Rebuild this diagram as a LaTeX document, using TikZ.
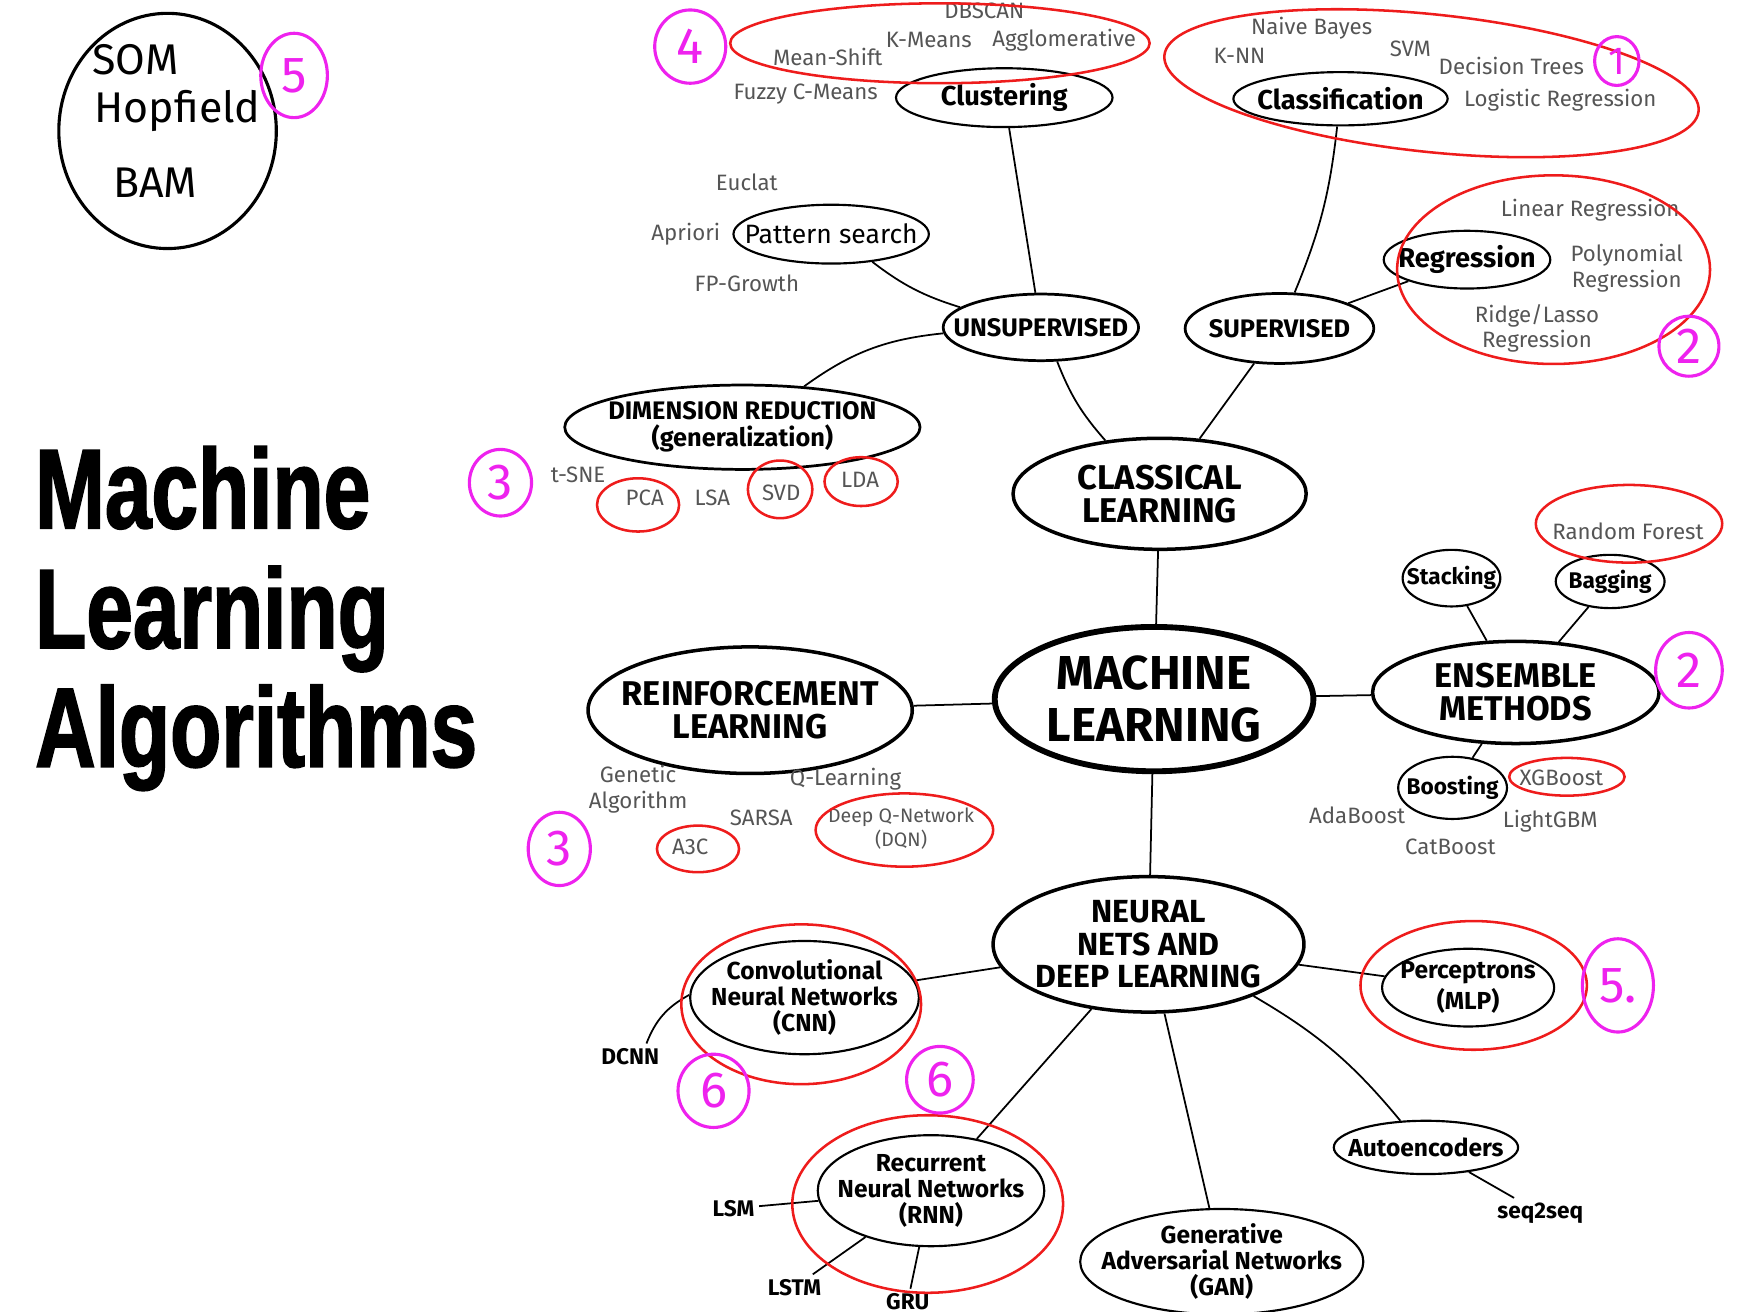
\documentclass[tikz,border=0pt]{standalone}
\usepackage{fontspec}
\setmainfont{Fira Sans}
\newfontfamily\titlefont[FakeStretch=0.74,FakeBold=1.5]{Liberation Sans}
\usepackage{xcolor}
\usepackage{tikz}
\usetikzlibrary{shapes.geometric}

\definecolor{inkgray}{HTML}{555555}
\definecolor{markred}{HTML}{EE1C1C}
\definecolor{markpink}{HTML}{EE22EE}

\begin{document}
\begin{tikzpicture}[
    x=0.01cm, y=-0.01cm,
    oval/.style={
        ellipse, draw, inner sep=-10pt, align=center
    },
    core/.style={
        oval, line width=1.5pt,
        font=\bfseries\fontsize{12.2}{13.4}\selectfont
    },
    branch/.style={
        oval, line width=0.9pt,
        font=\bfseries\fontsize{8.8}{8.5}\selectfont
    },
    group/.style={
        oval, line width=0.7pt,
        font=\bfseries\fontsize{6.5}{6.9}\selectfont
    },
    method/.style={
        oval, line width=0.55pt,
        font=\bfseries\fontsize{7}{8}\selectfont
    },
    minor/.style={
        oval, line width=0.55pt,
        font=\bfseries\fontsize{5.8}{7}\selectfont
    },
    model/.style={
        oval, line width=0.55pt,
        font=\bfseries\fontsize{6.3}{6.6}\selectfont
    },
    leaf/.style={
        text=inkgray, inner sep=1pt, align=center,
        font=\fontsize{5.7}{6.6}\selectfont
    },
    variant/.style={
        inner sep=1pt, font=\bfseries\fontsize{5.8}{6.6}\selectfont
    },
    link/.style={
        draw, line width=0.45pt
    },
    redring/.style={
        draw=markred, line width=0.65pt
    },
    tag/.style={
        ellipse, draw=markpink, line width=0.8pt, text=markpink,
        inner sep=0pt, font=\fontsize{13}{13}\selectfont
    },
    hand/.style={
        inner sep=0pt, font=\fontsize{11}{12}\selectfont
    },
    headline/.style={
        anchor=base west, inner sep=0pt,
        font=\titlefont\bfseries\fontsize{29}{31}\selectfont
    }
]
\useasboundingbox (0,0) rectangle (1568,1182);

% Title
\node[headline] (ttlMachine)    at (31,476) {Machine};
\node[headline] (ttlLearning)   at (31,584) {Learning};
\node[headline] (ttlAlgorithms) at (31,691) {Algorithms};

% Note in the corner
\draw[line width=0.8pt] (151,118) ellipse [x radius=98, y radius=106];
\node[hand] (som)      at (122,54)  {SOM};
\node[hand] (hopfield) at (160,100) {Hopfield};
\node[hand] (bam)      at (140,165) {BAM};

% Main nodes
\node[core, minimum width=2.87cm, minimum height=1.30cm] (ml) at (1040,630) {MACHINE\\LEARNING};
\node[branch, minimum width=2.64cm, minimum height=1.00cm] (classical) at (1045,445) {CLASSICAL\\LEARNING};
\node[branch, minimum width=2.58cm, minimum height=0.92cm] (ensemble) at (1366,624) {ENSEMBLE\\METHODS};
\node[branch, minimum width=2.92cm, minimum height=1.14cm] (rl) at (676,640) {REINFORCEMENT\\LEARNING};
\node[branch, font=\bfseries\fontsize{8.2}{8.4}\selectfont, minimum width=2.80cm, minimum height=1.22cm] (nn) at (1035,851) {NEURAL\\NETS AND\\DEEP LEARNING};

% Classical learning
\node[group, minimum width=1.76cm, minimum height=0.60cm] (unsup) at (938,295) {UNSUPERVISED};
\node[group, minimum width=1.70cm, minimum height=0.63cm] (sup) at (1153,296) {SUPERVISED};
\node[group, minimum width=3.20cm, minimum height=0.76cm] (dimred) at (669,385) {DIMENSION REDUCTION\\(generalization)};
\node[method, minimum width=1.95cm, minimum height=0.53cm] (clustering) at (905,88) {Clustering};
\node[method, minimum width=1.93cm, minimum height=0.48cm] (classif) at (1208,89) {Classification};
\node[method, font=\fontsize{6.8}{8}\selectfont, minimum width=1.76cm, minimum height=0.53cm] (pattern) at (749,211) {Pattern search};
\node[method, minimum width=1.50cm, minimum height=0.52cm] (regression) at (1322,234) {Regression};

% Ensemble methods
\node[minor, minimum width=0.88cm, minimum height=0.51cm] (stacking) at (1308,521) {Stacking};
\node[minor, minimum width=0.98cm, minimum height=0.48cm] (bagging) at (1451,524) {Bagging};
\node[minor, minimum width=0.98cm, minimum height=0.56cm] (boosting) at (1309,710) {Boosting};

% Neural nets
\node[model, minimum width=2.06cm, minimum height=1.02cm] (cnn) at (725,899) {Convolutional\\Neural Networks\\(CNN)};
\node[model, minimum width=2.04cm, minimum height=1.00cm] (rnn) at (839,1073) {Recurrent\\Neural Networks\\(RNN)};
\node[model, minimum width=2.55cm, minimum height=0.95cm] (gan) at (1101,1137) {Generative\\Adversarial Networks\\(GAN)};
\node[model, minimum width=1.66cm, minimum height=0.48cm] (autoenc) at (1285,1034) {Autoencoders};
\node[model, minimum width=1.55cm, minimum height=0.70cm] (mlp) at (1323,890) {Perceptrons\\(MLP)};
\node[variant] (dcnn)   at (568,952)   {DCNN};
\node[variant] (lsm)    at (661,1089)  {LSM};
\node[variant] (lstm)   at (716,1160)  {LSTM};
\node[variant] (gru)    at (818,1173)  {GRU};
\node[variant] (seqseq) at (1388,1093) {seq2seq};

% Leaves
\node[leaf] at (887,10)  {DBSCAN};
\node[leaf] at (837,36)  {K-Means};
\node[leaf] at (959,36)  {Agglomerative};
\node[leaf] at (746,51)  {Mean-Shift};
\node[leaf] at (726,85)  {Fuzzy C-Means};
\node[leaf] at (1182,25) {Naive Bayes};
\node[leaf] at (1271,44) {SVM};
\node[leaf] at (1117,50) {K-NN};
\node[leaf] at (1362,59) {Decision Trees};
\node[leaf] at (1406,90) {Logistic Regression};
\node[leaf] at (673,164) {Euclat};
\node[leaf] at (618,211) {Apriori};
\node[leaf] at (673,255) {FP-Growth};
\node[leaf] at (1433,189) {Linear Regression};
\node[leaf] at (1466,242) {Polynomial\\Regression};
\node[leaf] at (1385,296) {Ridge/Lasso\\Regression};
\node[leaf] at (521,428) {t-SNE};
\node[leaf] at (581,449) {PCA};
\node[leaf] at (642,449) {LSA};
\node[leaf] at (704,444) {SVD};
\node[leaf] at (775,432) {LDA};
\node[leaf] at (1467,479) {Random Forest};
\node[leaf] at (1407,701) {XGBoost};
\node[leaf] at (1397,740) {LightGBM};
\node[leaf] at (1223,735) {AdaBoost};
\node[leaf] at (1307,763) {CatBoost};
\node[leaf] at (575,711) {Genetic\\Algorithm};
\node[leaf] at (762,702) {Q-Learning};
\node[leaf] at (686,737) {SARSA};
\node[leaf] at (622,763) {A3C};
\node[leaf, font=\fontsize{5}{6.2}\selectfont] at (812,747) {Deep Q-Network\\(DQN)};

% Connectors
\draw[link] (ml) -- (classical);
\draw[link] (ml) -- (ensemble);
\draw[link] (ml) -- (rl);
\draw[link] (ml) -- (nn);
\draw[link] (classical) to[bend left=10] (unsup);
\draw[link] (classical) -- (sup);
\draw[link] (unsup) -- (clustering);
\draw[link] (unsup) to[bend left=10] (pattern);
\draw[link] (unsup) to[bend right=15] (dimred);
\draw[link] (sup) to[bend right=8] (classif);
\draw[link] (sup) -- (regression);
\draw[link] (ensemble) -- (stacking);
\draw[link] (ensemble) -- (bagging);
\draw[link] (ensemble) -- (boosting);
\draw[link] (nn) -- (cnn);
\draw[link] (nn) -- (rnn);
\draw[link] (nn) -- (gan);
\draw[link] (nn) to[bend left=10] (autoenc);
\draw[link] (nn) -- (mlp);
\draw[link] (cnn) to[bend right=20] (dcnn);
\draw[link] (rnn) -- (lsm);
\draw[link] (rnn) -- (lstm);
\draw[link] (rnn) -- (gru);
\draw[link] (autoenc) -- (seqseq);

% Red marks
\draw[redring] (847,39) ellipse [x radius=189, y radius=36];
\draw[redring, rotate around={-6:(1290,75)}] (1290,75) ellipse [x radius=242, y radius=62];
\draw[redring] (1400,243) ellipse [x radius=141, y radius=85];
\draw[redring] (575,455) ellipse [x radius=37, y radius=24];
\draw[redring] (703,441) ellipse [x radius=29, y radius=26];
\draw[redring] (776,434) ellipse [x radius=33, y radius=22];
\draw[redring] (1468,472) ellipse [x radius=84, y radius=35];
\draw[redring] (1412,700) ellipse [x radius=52, y radius=17];
\draw[redring] (629,765) ellipse [x radius=37, y radius=21];
\draw[redring] (815,748) ellipse [x radius=80, y radius=33];
\draw[redring] (722,905) ellipse [x radius=108, y radius=72];
\draw[redring] (836,1085) ellipse [x radius=122, y radius=80];
\draw[redring] (1328,888) ellipse [x radius=102, y radius=58];

% Pink numbers
\node[tag, minimum width=0.64cm, minimum height=0.66cm] (tagFour)   at (622,42)   {4};
\node[tag, minimum width=0.40cm, minimum height=0.44cm, font=\fontsize{10}{10}\selectfont] (tagOne) at (1457,55) {1};
\node[tag, minimum width=0.60cm, minimum height=0.76cm] (tagFiveA)  at (265,68)   {5};
\node[tag, minimum width=0.54cm, minimum height=0.54cm] (tagTwoA)   at (1522,312) {2};
\node[tag, minimum width=0.56cm, minimum height=0.60cm] (tagThreeA) at (451,435)  {3};
\node[tag, minimum width=0.60cm, minimum height=0.68cm] (tagTwoB)   at (1522,604) {2};
\node[tag, minimum width=0.56cm, minimum height=0.66cm] (tagThreeB) at (504,765)  {3};
\node[tag, minimum width=0.64cm, minimum height=0.84cm] (tagFiveB)  at (1458,888) {5.};
\node[tag, minimum width=0.64cm, minimum height=0.66cm] (tagSixA)   at (643,983)  {6};
\node[tag, minimum width=0.60cm, minimum height=0.60cm] (tagSixB)   at (847,973)  {6};

\end{tikzpicture}
\end{document}
